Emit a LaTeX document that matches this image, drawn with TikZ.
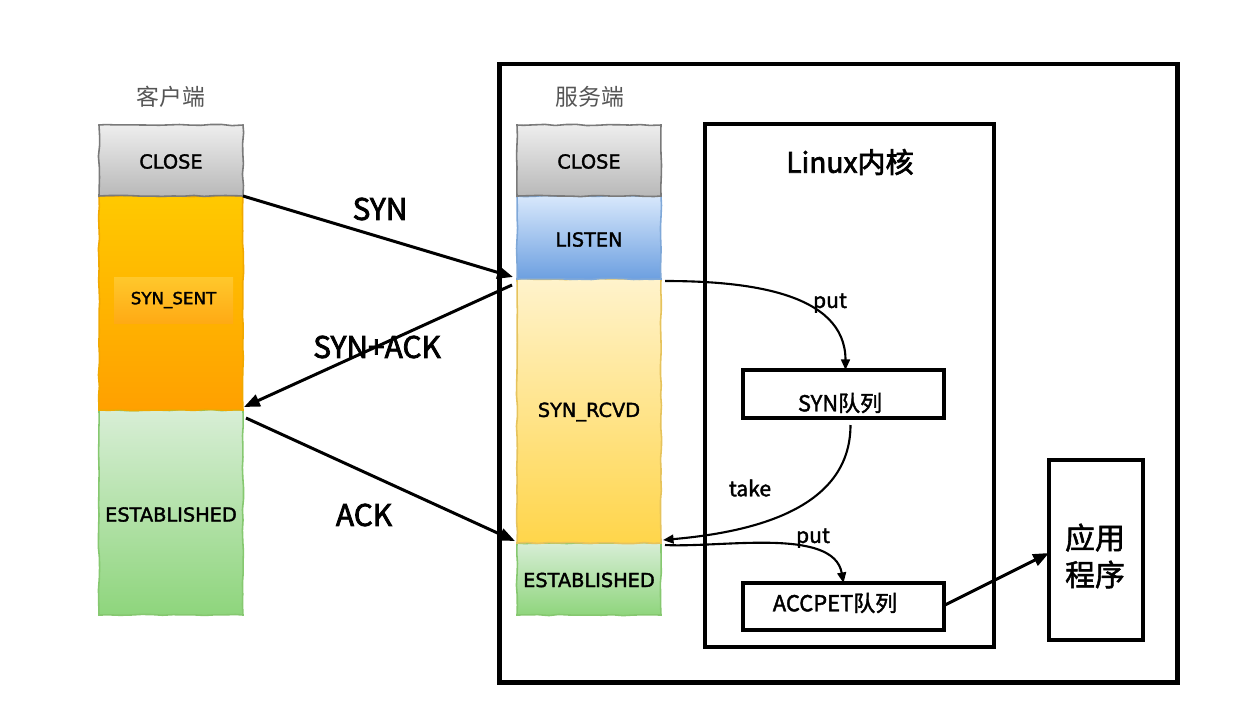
\documentclass[tikz,border=0pt]{standalone}
\usepackage{fontspec}
\setmainfont{Noto Sans CJK SC}
\newfontfamily\statefont{DejaVu Sans}[FakeBold=1.8]
\newfontfamily\medfont{Noto Sans CJK SC}[FakeBold=2.5]
\newfontfamily\lightmed{Noto Sans CJK SC}[FakeBold=1.8]
\usetikzlibrary{fit,arrows.meta,decorations.pathmorphing}
\definecolor{closetop}{HTML}{EEEEEE}
\definecolor{closebot}{HTML}{B8B8B8}
\definecolor{closeline}{HTML}{7A7A7A}
\definecolor{senttop}{HTML}{FFC900}
\definecolor{sentbot}{HTML}{FFA000}
\definecolor{sentline}{HTML}{F0A800}
\definecolor{innertop}{HTML}{FFC82C}
\definecolor{innerbot}{HTML}{FFAA14}
\definecolor{esttop}{HTML}{D8EED6}
\definecolor{estbot}{HTML}{8ED57C}
\definecolor{estline}{HTML}{86C870}
\definecolor{listtop}{HTML}{D8E8FC}
\definecolor{listbot}{HTML}{6C9FE0}
\definecolor{listline}{HTML}{7FA8D8}
\definecolor{rcvdtop}{HTML}{FFF3CC}
\definecolor{rcvdbot}{HTML}{FFD54A}
\definecolor{rcvdline}{HTML}{E6C35C}
\definecolor{sidegray}{HTML}{555555}
\begin{document}
\pgfmathsetseed{7}
\begin{tikzpicture}[x=0.02cm,y=-0.02cm,
  state/.style={inner sep=0pt,outer sep=0pt,draw,line width=0.9pt,
    decorate,decoration={random steps,segment length=6pt,amplitude=0.35pt}},
  statelbl/.style={inner sep=0pt,font=\statefont\fontsize{11}{13}\selectfont},
  frame/.style={inner sep=0pt,outer sep=0pt,draw=black},
  msg/.style={line width=1.7pt,-{Triangle[length=9pt,width=7pt]}},
  flow/.style={line width=1.2pt,-{Triangle[length=6pt,width=5pt]}},
  biglabel/.style={font=\medfont\fontsize{17}{20}\selectfont},
  smalllabel/.style={font=\lightmed\fontsize{12}{14}\selectfont},
  side/.style={font=\fontsize{13}{15}\selectfont,text=sidegray}]
\useasboundingbox (0,0) rectangle (1245,724);

% outer server frame and kernel frame
\node[frame,line width=2.7pt,fit={(499.5,64)(1177.5,682.5)}] (server) {};
\node[frame,line width=2.3pt,fit={(705,124)(994,647)}] (kernel) {};
\node[font=\medfont\fontsize{16}{19}\selectfont] (ktitle) at (850,162) {Linux内核};

% side titles
\node[side] (ctitle) at (171,97) {客户端};
\node[side] (stitle) at (590,97) {服务端};

% client column
\node[state,draw=estline,top color=esttop,bottom color=estbot,fit={(99,410)(243,615)}] (cest) {};
\node[state,draw=sentline,top color=senttop,bottom color=sentbot,fit={(99,196)(243,410)}] (csent) {};
\node[inner sep=0pt,outer sep=0pt,top color=innertop,bottom color=innerbot,fit={(114,277)(233,323)}] (csentbox) {};
\node[state,draw=closeline,top color=closetop,bottom color=closebot,fit={(99,125)(243,196)}] (cclose) {};
\node[statelbl] at ([shift={(0,1)}]cclose.center) {CLOSE};
\node[statelbl,font=\statefont\fontsize{9.5}{11}\selectfont] at (csentbox.center) {SYN\_SENT};
\node[statelbl] at ([shift={(0,2)}]cest.center) {ESTABLISHED};

% server column
\node[state,draw=estline,top color=esttop,bottom color=estbot,fit={(517,543)(661,615)}] (sest) {};
\node[state,draw=rcvdline,top color=rcvdtop,bottom color=rcvdbot,fit={(517,279)(661,543)}] (srcvd) {};
\node[state,draw=listline,top color=listtop,bottom color=listbot,fit={(517,196)(661,279)}] (slisten) {};
\node[state,draw=closeline,top color=closetop,bottom color=closebot,fit={(517,125)(661,196)}] (sclose) {};
\node[statelbl] at ([shift={(0,1)}]sclose.center) {CLOSE};
\node[statelbl] at ([shift={(0,2)}]slisten.center) {LISTEN};
\node[statelbl] at ([shift={(0,1)}]srcvd.center) {SYN\_RCVD};
\node[statelbl] at ([shift={(0,1)}]sest.center) {ESTABLISHED};

% queues and application
\node[frame,line width=1.9pt,fit={(743,370)(944,418)}] (synq) {};
\node[font=\lightmed\fontsize{12.5}{14}\selectfont] (synqlbl) at (840,403) {SYN队列};
\node[frame,line width=1.9pt,fit={(743,583)(944,630)}] (accq) {};
\node[font=\lightmed\fontsize{12.5}{14}\selectfont] (accqlbl) at (835,603) {ACCPET队列};
\node[frame,line width=2.3pt,fit={(1049,460)(1143,640)}] (app) {};
\node[align=center,font=\lightmed\fontsize{17}{21}\selectfont] (applbl) at (1095,556) {应用\\程序};

% handshake messages
\draw[msg] (cclose.south east) -- ([shift={(-4,-2)}]slisten.south west);
\draw[msg] ([shift={(-5,6)}]srcvd.north west) -- ([shift={(1,-3)}]csent.south east);
\draw[msg] ([shift={(3,8)}]cest.north east) -- ([shift={(-2,-2)}]sest.north west);
\node[biglabel] (lsyn) at (380,209) {SYN};
\node[biglabel] (lsynack) at (377,347) {SYN+ACK};
\node[biglabel] (lack) at (364,515) {ACK};

% kernel flows
\draw[flow] ([shift={(4,2)}]srcvd.north east) to[out=0,in=90] ([shift={(2,0)}]synq.north);
\draw[flow] ([shift={(7,7)}]synq.south) to[out=-90,in=5] ([shift={(2,-3)}]sest.north east);
\draw[flow] ([shift={(4,2)}]sest.north east) to[out=-3,in=100,looseness=0.8] (accq.north);
\draw[msg] ([shift={(0,-1)}]accq.east) -- ([shift={(0,3)}]app.west);
\node[smalllabel] (lput1) at (830,303) {put};
\node[smalllabel] (ltake) at (750,488) {take};
\node[smalllabel] (lput2) at (813,538) {put};
\end{tikzpicture}
\end{document}
